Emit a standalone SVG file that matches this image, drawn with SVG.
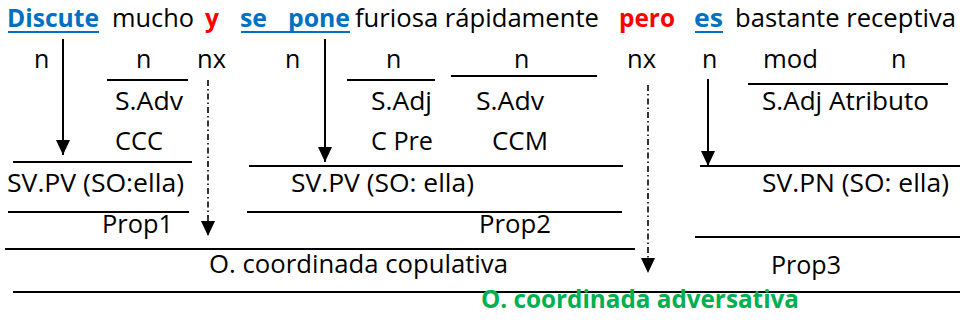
<svg xmlns="http://www.w3.org/2000/svg" width="960" height="325" viewBox="0 0 960 325">
<defs>
<style>
text{font-family:"Open Sans","Noto Sans","Liberation Sans",sans-serif;font-size:25px;fill:#000}
.b{font-weight:bold}
.blue{fill:#0070C0}
.red{fill:#FF0000}
.green{fill:#00B050}
.ln{stroke:#000;stroke-width:2;fill:none}
.ul{stroke:#0070C0;stroke-width:2}
.arr{stroke:#000;stroke-width:2;fill:none;marker-end:url(#ah)}
.dash{stroke:#000;stroke-width:1.6;fill:none;stroke-dasharray:6 3 1.5 3;marker-end:url(#ah)}
</style>
<marker id="ah" markerUnits="userSpaceOnUse" markerWidth="16" markerHeight="16" refX="15" refY="8" orient="auto" viewBox="0 0 16 16">
<path d="M0,1 L15,8 L0,15 z" fill="#000"/>
</marker>
</defs>
<rect width="960" height="325" fill="#fff"/>

<g id="sentence">
<text x="7" y="27" class="b blue" textLength="92" lengthAdjust="spacingAndGlyphs">Discute</text>
<line x1="8" y1="32" x2="99" y2="32" class="ul"/>
<text x="112" y="27" textLength="82" lengthAdjust="spacingAndGlyphs">mucho</text>
<text x="205" y="27" class="b red" textLength="14" lengthAdjust="spacingAndGlyphs">y</text>
<text x="240" y="27" class="b blue" textLength="27" lengthAdjust="spacingAndGlyphs">se</text>
<text x="288" y="27" class="b blue" textLength="62" lengthAdjust="spacingAndGlyphs">pone</text>
<line x1="241" y1="32" x2="350" y2="32" class="ul"/>
<text x="355" y="27" textLength="244" lengthAdjust="spacingAndGlyphs">furiosa rápidamente</text>
<text x="619" y="27" class="b red" textLength="56" lengthAdjust="spacingAndGlyphs">pero</text>
<text x="694" y="27" class="b blue" textLength="29" lengthAdjust="spacingAndGlyphs">es</text>
<line x1="695" y1="32" x2="723" y2="32" class="ul"/>
<text x="735" y="27" textLength="221" lengthAdjust="spacingAndGlyphs">bastante receptiva</text>
</g>

<g id="prop1">
<text x="34" y="68">n</text>
<text x="136" y="68">n</text>
<line x1="107" y1="80" x2="188" y2="80" class="ln"/>
<text x="115" y="110" textLength="68" lengthAdjust="spacingAndGlyphs">S.Adv</text>
<text x="115" y="150" textLength="48" lengthAdjust="spacingAndGlyphs">CCC</text>
<line x1="13" y1="162" x2="192" y2="162" class="ln"/>
<text x="7" y="192" textLength="177" lengthAdjust="spacingAndGlyphs">SV.PV (SO:ella)</text>
<line x1="8" y1="212" x2="189" y2="212" class="ln"/>
<text x="102" y="233" textLength="71" lengthAdjust="spacingAndGlyphs">Prop1</text>
</g>

<g id="nexo1">
<text x="197" y="68" textLength="29" lengthAdjust="spacingAndGlyphs">nx</text>
</g>

<g id="prop2">
<text x="285" y="68">n</text>
<text x="386" y="68">n</text>
<line x1="347" y1="80" x2="435" y2="80" class="ln"/>
<text x="514" y="68">n</text>
<line x1="451" y1="76" x2="597" y2="76" class="ln"/>
<text x="371" y="110" textLength="61" lengthAdjust="spacingAndGlyphs">S.Adj</text>
<text x="476" y="110" textLength="68" lengthAdjust="spacingAndGlyphs">S.Adv</text>
<text x="371" y="150" textLength="62" lengthAdjust="spacingAndGlyphs">C Pre</text>
<text x="492" y="150" textLength="56" lengthAdjust="spacingAndGlyphs">CCM</text>
<line x1="249" y1="166" x2="623" y2="166" class="ln"/>
<text x="291" y="192" textLength="183" lengthAdjust="spacingAndGlyphs">SV.PV (SO: ella)</text>
<line x1="247" y1="212" x2="622" y2="212" class="ln"/>
<text x="479" y="233" textLength="72" lengthAdjust="spacingAndGlyphs">Prop2</text>
</g>

<g id="copulativa">
<line x1="5" y1="249" x2="635" y2="249" class="ln"/>
<text x="209" y="273" textLength="299" lengthAdjust="spacingAndGlyphs">O. coordinada copulativa</text>
</g>

<g id="nexo2">
<text x="627" y="68" textLength="29" lengthAdjust="spacingAndGlyphs">nx</text>
</g>

<g id="prop3">
<text x="702" y="68">n</text>
<text x="763" y="68" textLength="55" lengthAdjust="spacingAndGlyphs">mod</text>
<text x="891" y="68">n</text>
<line x1="748" y1="84" x2="948" y2="84" class="ln"/>
<text x="762" y="110" textLength="167" lengthAdjust="spacingAndGlyphs">S.Adj Atributo</text>
<line x1="700" y1="166" x2="960" y2="166" class="ln"/>
<text x="762" y="192" textLength="187" lengthAdjust="spacingAndGlyphs">SV.PN (SO: ella)</text>
<line x1="695" y1="237" x2="960" y2="237" class="ln"/>
<text x="771" y="274" textLength="70" lengthAdjust="spacingAndGlyphs">Prop3</text>
</g>

<g id="adversativa">
<line x1="13" y1="292" x2="960" y2="292" class="ln"/>
<text x="481" y="308" class="b green" textLength="318" lengthAdjust="spacingAndGlyphs">O. coordinada adversativa</text>
</g>

<g id="connectors">
<line x1="63" y1="39" x2="63" y2="155" class="arr"/>
<line x1="325" y1="39" x2="325" y2="162" class="arr"/>
<line x1="708" y1="79" x2="708" y2="166" class="arr"/>
<line x1="208" y1="80" x2="208" y2="236" class="dash"/>
<line x1="648" y1="85" x2="648" y2="273" class="dash"/>
</g>
</svg>
